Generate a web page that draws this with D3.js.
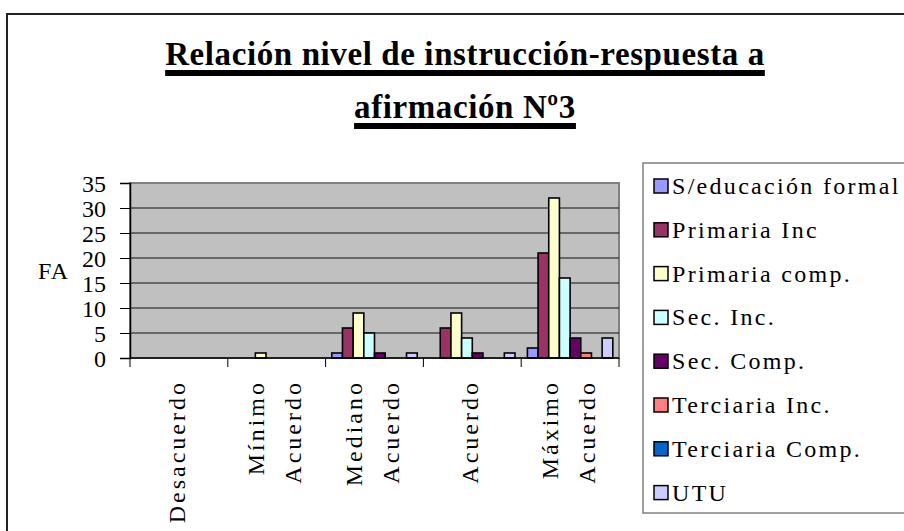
<!DOCTYPE html>
<html>
<head>
<meta charset="utf-8">
<script src="https://cdn.jsdelivr.net/npm/d3@7"></script>
</head>
<body style="margin:0; background:#fff">
<svg id="chart"></svg>
<script>
// categories (x) and series
const categories = ["Desacuerdo", "Mínimo Acuerdo", "Mediano Acuerdo", "Acuerdo", "Máximo Acuerdo"]
const seriesNames = ["S/educación formal", "Primaria Inc", "Primaria comp.", "Sec. Inc.",
                     "Sec. Comp.", "Terciaria Inc.", "Terciaria Comp.", "UTU"]
const seriesColors = ["#9999ff", "#993366", "#ffffcc", "#ccffff",
                      "#660066", "#ff8080", "#0066cc", "#ccccff"]
const sinEducacion   = [0, 0, 1, 0, 2]
const primariaInc    = [0, 0, 6, 6, 21]
const primariaComp   = [0, 1, 9, 9, 32]
const secInc         = [0, 0, 5, 4, 16]
const secComp        = [0, 0, 1, 1, 4]
const terciariaInc   = [0, 0, 0, 0, 1]
const terciariaComp  = [0, 0, 0, 0, 0]
const utu            = [0, 0, 1, 1, 4]
const seriesValues = [sinEducacion, primariaInc, primariaComp, secInc, secComp, terciariaInc, terciariaComp, utu]
const yTicks = [0, 5, 10, 15, 20, 25, 30, 35]
const titleLines = ["Relación nivel de instrucción-respuesta a", "afirmación Nº3"]
const yLabel = "FA"

const font = "Liberation Serif"
let w = 904
let h = 531

let svg = d3.select("#chart")
    .attr("width", w)
    .attr("height", h)
    .attr("font-family", font)

// chart frame (right and bottom edges run off the picture)
svg.append("rect")
    .attr("x", 7).attr("y", 14)
    .attr("width", 920).attr("height", 540)
    .attr("fill", "#fff")
    .attr("stroke", "#222")
    .attr("stroke-width", 2)

// title, with thick underline
let title = svg.append("g")
titleLines.forEach(function(line, i) {
    let t = title.append("text")
        .attr("x", 465)
        .attr("y", 65 + i * 53)
        .attr("text-anchor", "middle")
        .attr("font-family", font)
        .attr("font-size", 33)
        .attr("font-weight", "bold")
        .attr("letter-spacing", 0.6)
        .text(line)
    let bb = t.node().getBBox()
    title.append("rect")
        .attr("x", bb.x)
        .attr("y", 70 + i * 53)
        .attr("width", bb.width)
        .attr("height", 6)
        .attr("fill", "#000")
})

let plotLeft = 130, plotRight = 619, plotTop = 183, plotBottom = 358

let x0 = d3.scaleBand()
    .domain(categories)
    .range([plotLeft, plotRight])
    .padding(0)

let x1 = d3.scaleBand()
    .domain(seriesNames)
    .range([0, x0.bandwidth()])
    .paddingInner(0)
    .paddingOuter(0.58)

let y = d3.scaleLinear()
    .domain([0, 35])
    .range([plotBottom, plotTop])

// plot area
svg.append("rect")
    .attr("x", plotLeft).attr("y", plotTop)
    .attr("width", plotRight - plotLeft).attr("height", plotBottom - plotTop)
    .attr("fill", "#c0c0c0")
    .attr("stroke", "#808080")
    .attr("stroke-width", 2)

svg.append("g")
    .selectAll("line")
    .data(yTicks.filter(d => d > 0 && d < 35))
    .join("line")
    .attr("x1", plotLeft).attr("x2", plotRight)
    .attr("y1", d => y(d)).attr("y2", d => y(d))
    .attr("stroke", "#111")
    .attr("stroke-width", 1)

// bars
let bars = []
seriesNames.forEach(function(name, s) {
    seriesValues[s].forEach(function(v, c) {
        if (v > 0) bars.push({ series: name, color: seriesColors[s], cat: categories[c], value: v })
    })
})

svg.append("g")
    .selectAll("rect")
    .data(bars)
    .join("rect")
    .attr("x", d => x0(d.cat) + x1(d.series))
    .attr("y", d => y(d.value))
    .attr("width", x1.bandwidth())
    .attr("height", d => y(0) - y(d.value))
    .attr("fill", d => d.color)
    .attr("stroke", "#000")
    .attr("stroke-width", 1.6)

// y axis
let yAxis = svg.append("g")
    .attr("transform", `translate(${plotLeft},0)`)
    .call(d3.axisLeft(y).tickValues(yTicks).tickSize(10).tickPadding(14))
    .attr("font-family", font)
    .attr("font-size", 24)
yAxis.select(".domain").attr("stroke", "#000").attr("stroke-width", 1.5)
yAxis.selectAll(".tick line").attr("stroke", "#000")
yAxis.selectAll(".tick text")
    .attr("dy", "0.34em")
    .attr("fill", "#000")

svg.append("text")
    .attr("x", 69)
    .attr("y", 279)
    .attr("text-anchor", "end")
    .attr("font-size", 24)
    .attr("letter-spacing", 1)
    .text(yLabel)

// x axis (ticks at category boundaries)
svg.append("line")
    .attr("x1", plotLeft).attr("x2", plotRight)
    .attr("y1", plotBottom).attr("y2", plotBottom)
    .attr("stroke", "#000").attr("stroke-width", 1.5)

svg.append("g")
    .selectAll("line")
    .data(categories.concat([null]))
    .join("line")
    .attr("x1", (d, i) => plotLeft + i * x0.step())
    .attr("x2", (d, i) => plotLeft + i * x0.step())
    .attr("y1", plotBottom).attr("y2", plotBottom + 9)
    .attr("stroke", "#000")

// rotated category labels, wrapped on spaces
let labels = svg.append("g")
categories.forEach(function(cat) {
    let lines = cat.split(" ")
    let cx = x0(cat) + x0.bandwidth() / 2
    lines.forEach(function(line, i) {
        let lx = cx + (i - (lines.length - 1) / 2) * 37 + 6
        labels.append("text")
            .attr("transform", `translate(${lx},380) rotate(-90)`)
            .attr("text-anchor", "end")
            .attr("font-size", 24)
            .attr("letter-spacing", 3)
            .text(line)
    })
})

// legend
svg.append("rect")
    .attr("x", 643).attr("y", 163)
    .attr("width", 300).attr("height", 350)
    .attr("fill", "#fff")
    .attr("stroke", "#808080")
    .attr("stroke-width", 1.5)

let legend = svg.append("g")
    .selectAll("g")
    .data(seriesNames)
    .join("g")
    .attr("transform", (d, i) => `translate(654,${186 + i * 43.8})`)

legend.append("rect")
    .attr("x", 0).attr("y", -7)
    .attr("width", 14).attr("height", 14)
    .attr("fill", (d, i) => seriesColors[i])
    .attr("stroke", "#000")
    .attr("stroke-width", 1.5)

legend.append("text")
    .attr("x", 18)
    .attr("y", 8)
    .attr("font-size", 24)
    .attr("letter-spacing", 2.3)
    .text(d => d)
</script>
</body>
</html>
